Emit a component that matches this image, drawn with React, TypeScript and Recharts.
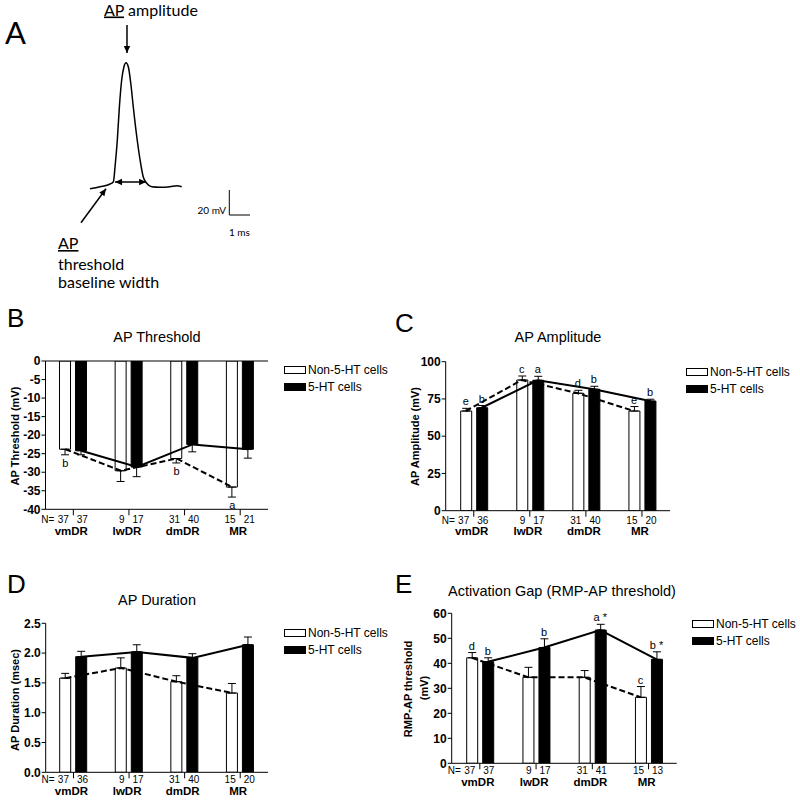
import React from 'react'
import {
  ComposedChart, LineChart, Line, Bar, XAxis, YAxis, ErrorBar, ReferenceLine, Legend
} from 'recharts'

const FONT = '"Liberation Sans", Arial, sans-serif'
const TRACE_FONT = 'Lato, "Open Sans", sans-serif'

const regions = ['vmDR', 'lwDR', 'dmDR', 'MR']
const seriesNames = ['Non-5-HT cells', '5-HT cells']

// A: example action potential (ms, mV)
const traceMs = [0, 0.48, 0.97, 1.13, 1.21, 1.32, 1.42, 1.53, 1.64, 1.74, 1.85, 1.97, 2.09, 2.26, 2.42, 2.57, 2.74, 2.98, 3.38, 3.86, 4.19, 4.43]
const traceMv = [-60, -58.4, -56.2, -54.4, -42.4, -21, 5.6, 27, 37.6, 40.8, 37.6, 24.4, 5.6, -18.4, -37, -50.4, -55.6, -58.4, -58.8, -58.4, -57.6, -58.4]
const amplitudeArrow = [{ x: 1.787, y: 71 }, { x: 1.787, y: 48.6 }]
const widthArrow = [{ x: 1.21, y: -54.6 }, { x: 2.71, y: -54.6 }]
const thresholdArrow = [{ x: -0.435, y: -87.2 }, { x: 0.773, y: -60 }]
const scaleOrigin = { x: 6.73, y: -81 }
const scaleMs = 1
const scaleMv = 20

// B: AP threshold (mV)
const thrNon = [-23.8, -29.6, -26.3, -34.0]
const thrNonErr = [1.5, 2.9, 1.2, 2.7]
const thrHt = [-24.2, -28.6, -22.5, -23.8]
const thrHtErr = [1.1, 2.6, 2.0, 2.4]
const thrNonN = [37, 9, 31, 15]
const thrHtN = [37, 17, 40, 21]
const thrNonLetters = ['b', '', 'b', 'a']

// C: AP amplitude (mV)
const ampNon = [66.9, 87.7, 78.8, 66.9]
const ampNonErr = [1.8, 2.7, 2.0, 3.0]
const ampHt = [69.1, 87.5, 81.5, 73.6]
const ampHtErr = [1.5, 2.7, 2.0, 1.2]
const ampNonN = [37, 9, 31, 15]
const ampHtN = [36, 17, 40, 20]
const ampNonLetters = ['e', 'c', 'd', 'e']
const ampHtLetters = ['b', 'a', 'b', 'b']

// D: AP duration (msec)
const durNon = [1.58, 1.75, 1.52, 1.33]
const durNonErr = [0.08, 0.17, 0.1, 0.16]
const durHt = [1.94, 2.02, 1.92, 2.14]
const durHtErr = [0.09, 0.12, 0.07, 0.13]
const durNonN = [37, 9, 31, 15]
const durHtN = [36, 17, 40, 20]

// E: activation gap (mV)
const gapNon = [42.2, 34.4, 34.4, 26.4]
const gapNonErr = [2.1, 4.0, 2.7, 4.3]
const gapHt = [40.6, 46.3, 53.3, 41.6]
const gapHtErr = [1.6, 3.5, 2.3, 3.0]
const gapNonN = [37, 9, 31, 15]
const gapHtN = [37, 17, 41, 13]
const gapNonLetters = ['d', '', '', 'c']
const gapHtLetters = ['b', 'b', 'a *', 'b *']

const arrowShape = (both: boolean) => (p: any) => {
  const { x1, y1, x2, y2 } = p
  const a = Math.atan2(y2 - y1, x2 - x1)
  const head = (x: number, y: number, ang: number) => {
    const L = 7, W = 3.2
    const bx = x - L * Math.cos(ang), by = y - L * Math.sin(ang)
    return `${x},${y} ${bx + W * Math.sin(ang)},${by - W * Math.cos(ang)} ${bx - W * Math.sin(ang)},${by + W * Math.cos(ang)}`
  }
  return (
    <g>
      <line x1={x1} y1={y1} x2={x2} y2={y2} stroke="#000" strokeWidth={1.5} />
      <polygon points={head(x2, y2, a)} fill="#000" />
      {both && <polygon points={head(x1, y1, a + Math.PI)} fill="#000" />}
    </g>
  )
}

const RegionTick = (props: any) => {
  const { x, y, payload, nonN, htN, numDy, nameDy } = props
  const i = payload.index ?? props.index
  const base = y - 6
  return (
    <g fontFamily={FONT} fill="#000">
      {i === 0 && <text x={x - 19} y={base + numDy} textAnchor="end" fontSize={10}>N=</text>}
      <text x={x - 4.5} y={base + numDy} textAnchor="end" fontSize={10}>{nonN[i]}</text>
      <text x={x + 3.5} y={base + numDy} textAnchor="start" fontSize={10}>{htN[i]}</text>
      <text x={x - 2} y={base + nameDy} textAnchor="middle" fontSize={11.5} fontWeight="bold">{payload.value}</text>
    </g>
  )
}

const letterDot = (letters: string[], down: boolean) => (p: any) => {
  const t = letters[p.index]
  if (!t) return <g key={`ld-${p.index}`} />
  return (
    <text key={`ld-${p.index}`} x={p.cx} y={down ? p.cy + 12 : p.cy - 3} textAnchor="middle"
      fontSize={11} fontFamily={FONT} fill="#000">{t}</text>
  )
}

const renderLegend = (props: any) => {
  const items = seriesNames
    .map((n) => (props.payload || []).find((e: any) => e.value === n))
    .filter(Boolean)
  return (
    <div style={{ fontFamily: FONT, fontSize: 12, color: '#000' }}>
      {items.map((e: any) => (
        <div key={e.value} style={{ display: 'flex', alignItems: 'center', height: 17.5, whiteSpace: 'nowrap' }}>
          <span style={{ display: 'inline-block', width: 20, height: 6, border: '1px solid #000', background: e.color, marginRight: 2 }} />
          <span>{e.value}</span>
        </div>
      ))}
    </div>
  )
}

interface PanelProps {
  box: { x: number, y: number, w: number, h: number }
  plot: { left: number, right: number, top: number, bottom: number }
  domain: [number, number]
  ticks: number[]
  fmt?: (v: number) => string
  non: number[]; nonErr: number[]; ht: number[]; htErr: number[]
  nonN: number[]; htN: number[]
  nonLetters?: string[]; htLetters?: string[]
  down?: boolean
  numDy: number; nameDy: number
  legend: { x: number, y: number }
}

const BarPanel = (p: PanelProps) => {
  const down = !!p.down
  const rows = regions.map((region, i) => ({
    region,
    non: p.non[i],
    ht: p.ht[i],
    nonErr: down ? [p.nonErr[i], 0] : [0, p.nonErr[i]],
    htErr: down ? [p.htErr[i], 0] : [0, p.htErr[i]],
    nonMark: down ? p.non[i] - p.nonErr[i] : p.non[i] + p.nonErr[i],
    htMark: down ? p.ht[i] - p.htErr[i] : p.ht[i] + p.htErr[i],
  }))
  const { box, plot } = p
  return (
    <div style={{ position: 'absolute', left: box.x, top: box.y }}>
      <ComposedChart
        width={box.w}
        height={box.h}
        data={rows}
        barGap={5}
        margin={{ top: plot.top - box.y, right: box.x + box.w - plot.right, bottom: box.y + box.h - plot.bottom - 20, left: 0 }}
      >
        <XAxis dataKey="region" height={20} interval={0} tickSize={6} tickMargin={0}
          axisLine={{ stroke: '#000' }} tickLine={{ stroke: '#000' }}
          tick={<RegionTick nonN={p.nonN} htN={p.htN} numDy={p.numDy} nameDy={p.nameDy} />} />
        <XAxis xAxisId="w" dataKey="region" hide padding={{ left: -8, right: 8 }} />
        <XAxis xAxisId="b" dataKey="region" hide padding={{ left: 8, right: -8 }} />
        <YAxis width={plot.left - box.x} domain={p.domain} ticks={p.ticks} interval={0} allowDataOverflow
          tickFormatter={p.fmt} tickSize={4} tickMargin={1}
          axisLine={{ stroke: '#000' }} tickLine={{ stroke: '#000' }}
          tick={{ fill: '#000', fontSize: 12, fontWeight: 'bold', fontFamily: FONT }} />
        {down && <ReferenceLine y={0} stroke="#000" />}
        <Line xAxisId="w" dataKey="non" type="linear" stroke="#000" strokeWidth={2} strokeDasharray="6 3"
          dot={false} activeDot={false} legendType="none" isAnimationActive={false} />
        <Line xAxisId="b" dataKey="ht" type="linear" stroke="#000" strokeWidth={2}
          dot={false} activeDot={false} legendType="none" isAnimationActive={false} />
        <Bar dataKey="non" name={seriesNames[0]} fill="#fff" stroke="#000" strokeWidth={1} barSize={11} isAnimationActive={false}>
          <ErrorBar dataKey="nonErr" width={4} stroke="#000" strokeWidth={1} direction="y" />
        </Bar>
        <Bar dataKey="ht" name={seriesNames[1]} fill="#000" stroke="#000" strokeWidth={1} barSize={11} isAnimationActive={false}>
          <ErrorBar dataKey="htErr" width={4} stroke="#000" strokeWidth={1} direction="y" />
        </Bar>
        {p.nonLetters && (
          <Line xAxisId="w" dataKey="nonMark" stroke="none" dot={letterDot(p.nonLetters, down)}
            activeDot={false} legendType="none" isAnimationActive={false} />
        )}
        {p.htLetters && (
          <Line xAxisId="b" dataKey="htMark" stroke="none" dot={letterDot(p.htLetters, down)}
            activeDot={false} legendType="none" isAnimationActive={false} />
        )}
        <Legend layout="vertical" align="center" verticalAlign="middle" content={renderLegend}
          wrapperStyle={{ left: p.legend.x - box.x, top: p.legend.y - box.y, width: 'auto', height: 'auto' }} />
      </ComposedChart>
    </div>
  )
}

// trace panel scale: 20.7 px per ms, 1.25 px per mV
const T_MIN = -90 / 20.7
const T_MAX = T_MIN + 300 / 20.7
const V_MAX = 91
const V_MIN = V_MAX - 300 / 1.25

const TracePanel = () => {
  const rows = traceMs.map((t, i) => ({ t, v: traceMv[i] }))
  return (
    <div style={{ position: 'absolute', left: 0, top: 0 }}>
      <LineChart width={300} height={300} data={rows} margin={{ top: 0, right: 0, bottom: 0, left: 0 }}>
        <XAxis type="number" dataKey="t" domain={[T_MIN, T_MAX]} hide allowDataOverflow />
        <YAxis type="number" domain={[V_MIN, V_MAX]} hide allowDataOverflow />
        <Line dataKey="v" type="monotone" stroke="#000" strokeWidth={1.5} dot={false} activeDot={false}
          isAnimationActive={false} />
        <ReferenceLine segment={amplitudeArrow} shape={arrowShape(false)} ifOverflow="visible" />
        <ReferenceLine segment={widthArrow} shape={arrowShape(true)} ifOverflow="visible" />
        <ReferenceLine segment={thresholdArrow} shape={arrowShape(false)} ifOverflow="visible" />
        <ReferenceLine segment={[{ x: scaleOrigin.x, y: scaleOrigin.y + scaleMv }, scaleOrigin]}
          stroke="#000" strokeWidth={1} ifOverflow="visible" />
        <ReferenceLine segment={[scaleOrigin, { x: scaleOrigin.x + scaleMs, y: scaleOrigin.y }]}
          stroke="#000" strokeWidth={1} ifOverflow="visible" />
      </LineChart>
    </div>
  )
}

const App = () => (
  <div style={{ position: 'absolute', left: 0, top: 0, width: 800, height: 800, background: '#fff', overflow: 'hidden' }}>
    <TracePanel />
    <BarPanel
      box={{ x: 0, y: 300, w: 400, h: 250 }}
      plot={{ left: 45.5, right: 268, top: 361, bottom: 509.3 }}
      domain={[-40, 0]} ticks={[0, -5, -10, -15, -20, -25, -30, -35, -40]}
      non={thrNon} nonErr={thrNonErr} ht={thrHt} htErr={thrHtErr}
      nonN={thrNonN} htN={thrHtN} nonLetters={thrNonLetters} down
      numDy={14} nameDy={25.5} legend={{ x: 284, y: 361 }}
    />
    <BarPanel
      box={{ x: 400, y: 300, w: 400, h: 250 }}
      plot={{ left: 445.7, right: 670, top: 361.7, bottom: 510.7 }}
      domain={[0, 100]} ticks={[0, 25, 50, 75, 100]}
      non={ampNon} nonErr={ampNonErr} ht={ampHt} htErr={ampHtErr}
      nonN={ampNonN} htN={ampHtN} nonLetters={ampNonLetters} htLetters={ampHtLetters}
      numDy={13} nameDy={24} legend={{ x: 686, y: 363 }}
    />
    <BarPanel
      box={{ x: 0, y: 560, w: 400, h: 240 }}
      plot={{ left: 45.7, right: 268, top: 623.3, bottom: 772.3 }}
      domain={[0, 2.5]} ticks={[0, 0.5, 1, 1.5, 2, 2.5]} fmt={(v: number) => v.toFixed(1)}
      non={durNon} nonErr={durNonErr} ht={durHt} htErr={durHtErr}
      nonN={durNonN} htN={durHtN}
      numDy={11} nameDy={22.5} legend={{ x: 284, y: 624 }}
    />
    <BarPanel
      box={{ x: 400, y: 560, w: 400, h: 240 }}
      plot={{ left: 451.7, right: 676.7, top: 613.3, bottom: 763.3 }}
      domain={[0, 60]} ticks={[0, 10, 20, 30, 40, 50, 60]}
      non={gapNon} nonErr={gapNonErr} ht={gapHt} htErr={gapHtErr}
      nonN={gapNonN} htN={gapHtN} nonLetters={gapNonLetters} htLetters={gapHtLetters}
      numDy={11} nameDy={23} legend={{ x: 692, y: 615 }}
    />
    <svg width={800} height={800} style={{ position: 'absolute', left: 0, top: 0, pointerEvents: 'none' }}>
      <g fontFamily={TRACE_FONT} fill="#000">
        <text x={5} y={43.5} fontSize={31}>A</text>
        <text x={104} y={15.5} fontSize={16}><tspan style={{ textDecoration: 'underline' }}>AP</tspan> amplitude</text>
        <text x={58} y={249} fontSize={16} style={{ textDecoration: 'underline' }}>AP</text>
        <text x={58} y={269.5} fontSize={16}>threshold</text>
        <text x={58} y={288} fontSize={16}>baseline width</text>
        <text x={226} y={213.5} fontSize={10} textAnchor="end">20 mV</text>
        <text x={229} y={235.5} fontSize={10}>1 ms</text>
      </g>
      <g fontFamily={FONT} fill="#000">
        <text x={7} y={327} fontSize={26}>B</text>
        <text x={395} y={332} fontSize={26}>C</text>
        <text x={7} y={593} fontSize={26}>D</text>
        <text x={395} y={593} fontSize={26}>E</text>
        <text x={157} y={342} fontSize={14.5} textAnchor="middle">AP Threshold</text>
        <text x={558} y={342} fontSize={14.5} textAnchor="middle">AP Amplitude</text>
        <text x={157} y={605} fontSize={14.5} textAnchor="middle">AP Duration</text>
        <text x={562} y={596} fontSize={14.5} textAnchor="middle">Activation Gap (RMP-AP threshold)</text>
        <g fontSize={11} fontWeight="bold" textAnchor="middle" dominantBaseline="central">
          <text transform="translate(15,436) rotate(-90)">AP Threshold (mV)</text>
          <text transform="translate(415,436.5) rotate(-90)">AP Amplitude (mV)</text>
          <text transform="translate(15,700) rotate(-90)">AP Duration (msec)</text>
          <text transform="translate(408,689) rotate(-90)">RMP-AP threshold</text>
          <text transform="translate(423.5,688) rotate(-90)">(mV)</text>
        </g>
      </g>
    </svg>
  </div>
)

export default App
